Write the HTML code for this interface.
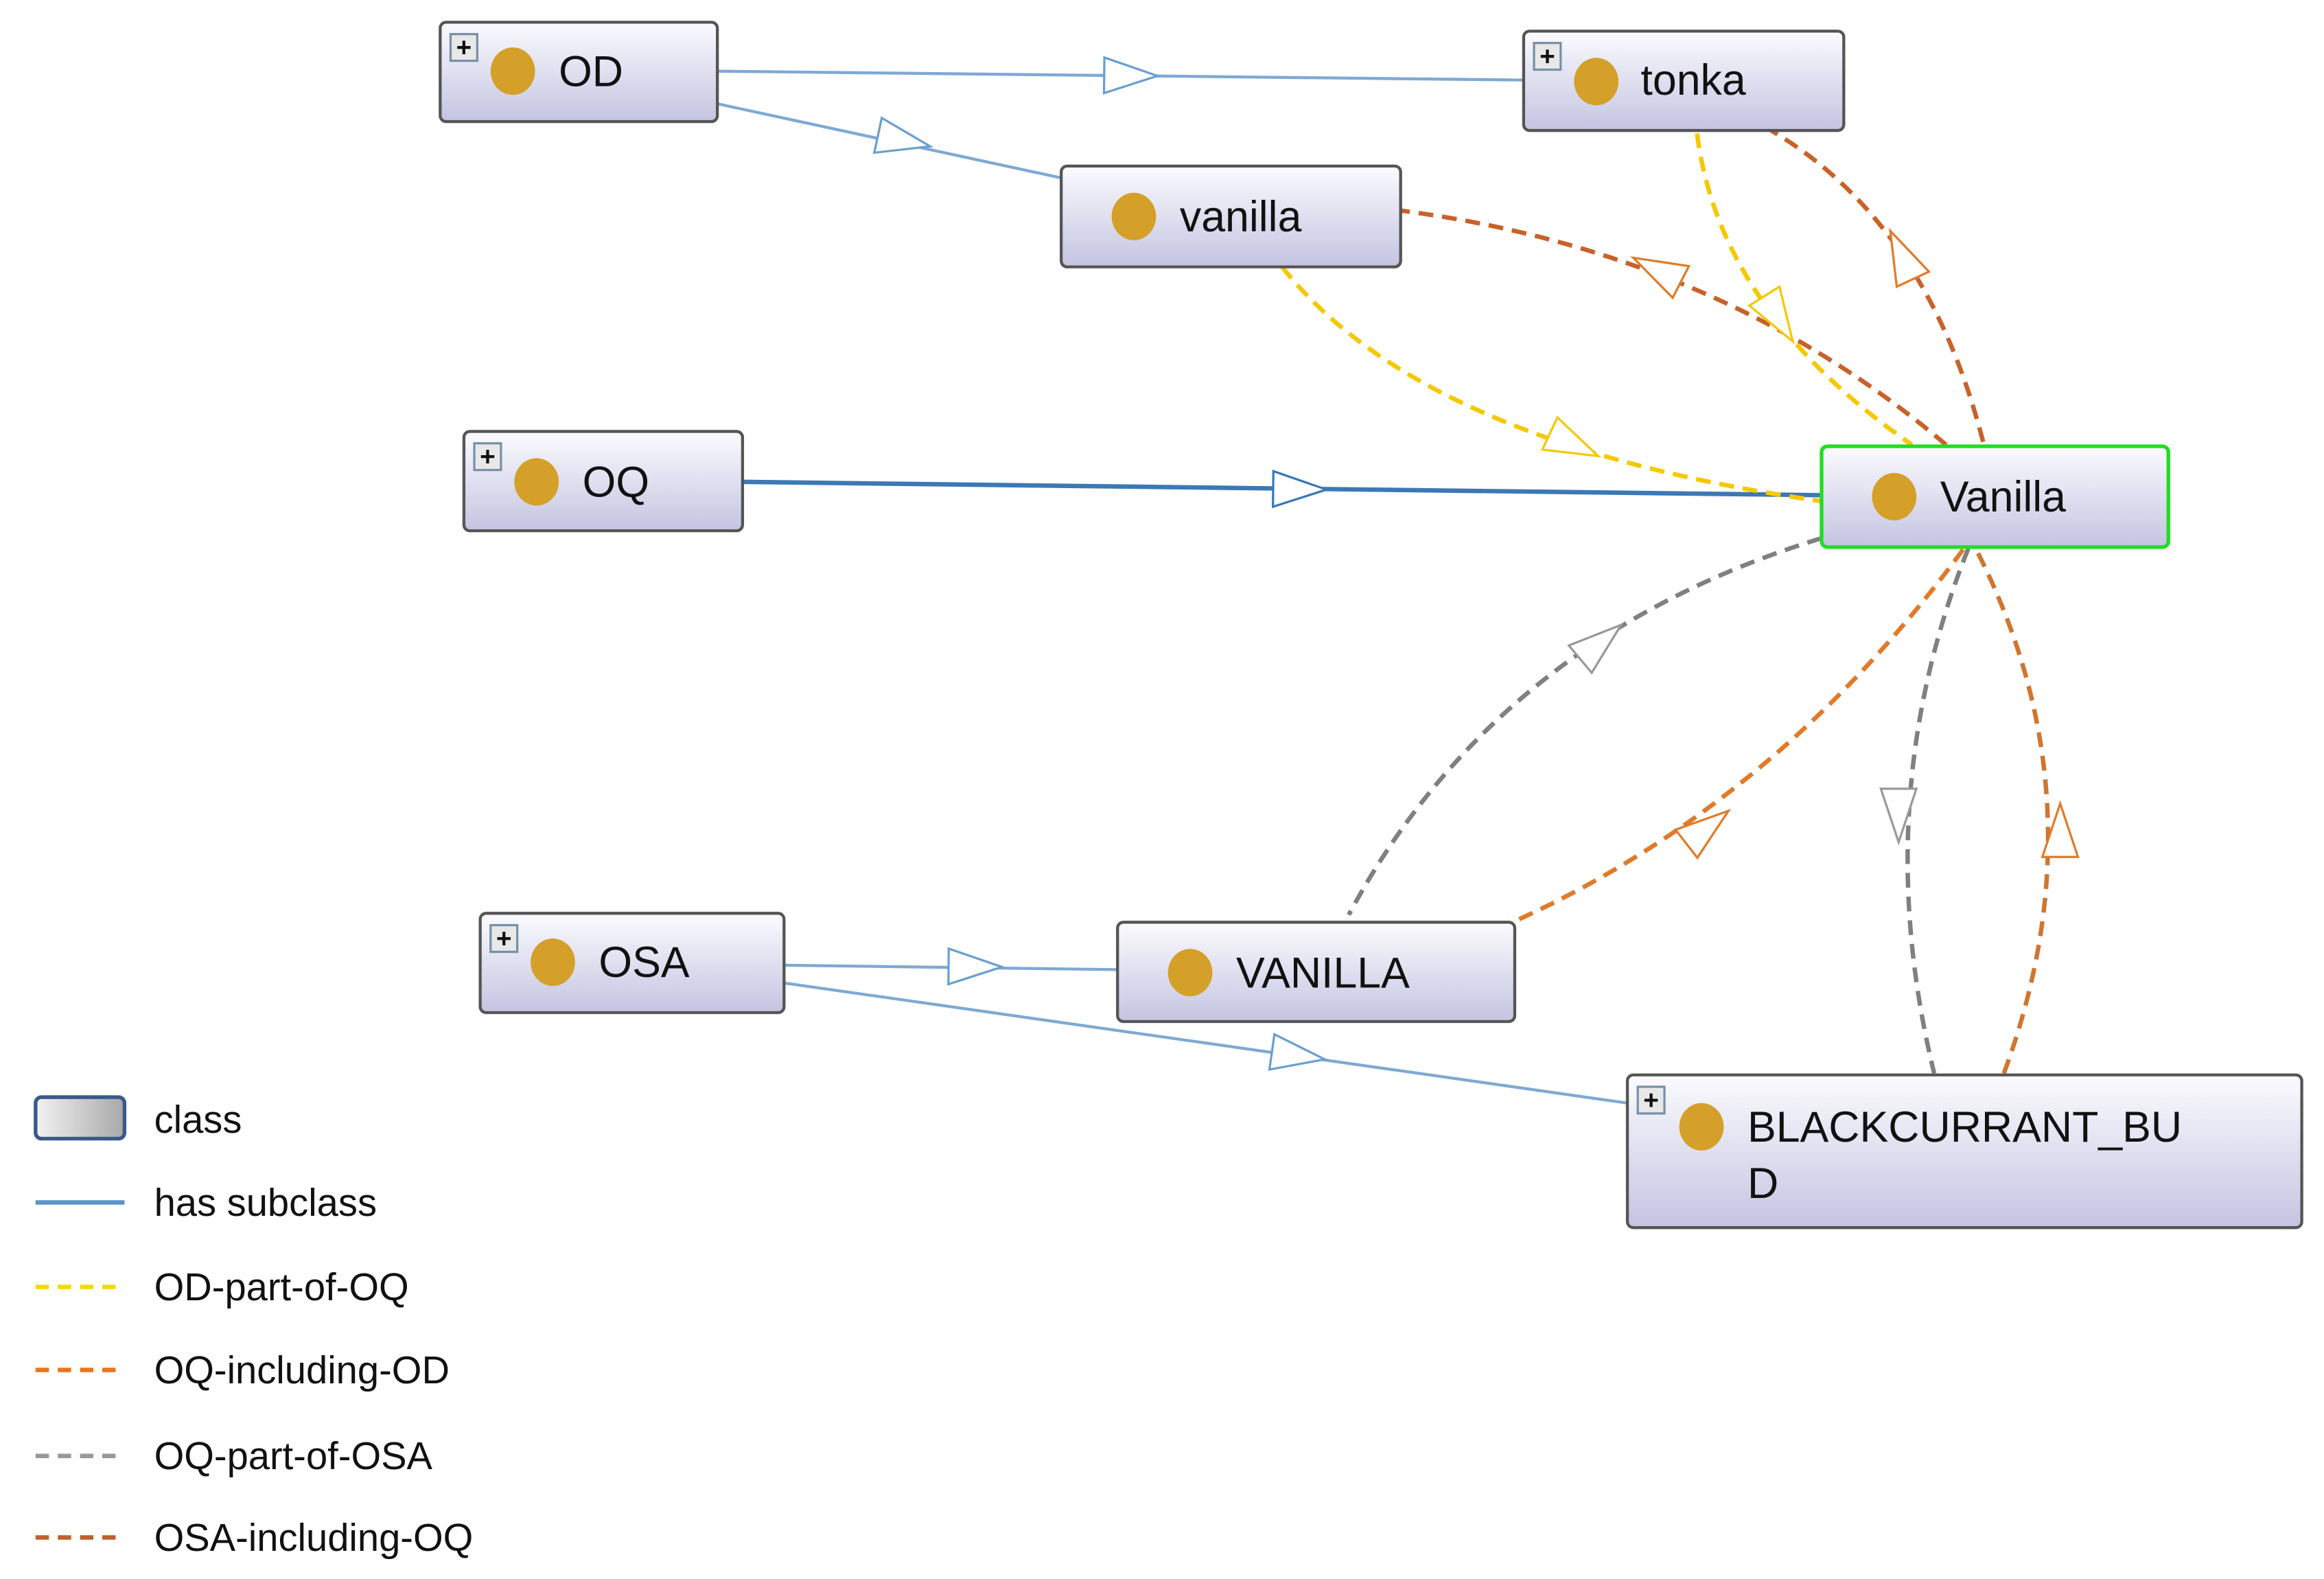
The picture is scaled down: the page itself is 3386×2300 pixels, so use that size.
<!DOCTYPE html>
<html><head><meta charset="utf-8"><style>
html,body{margin:0;padding:0;background:#fff;}
svg{display:block}
text{font-family:"Liberation Sans",Arial,sans-serif;fill:#111}
</style></head><body>
<svg width="3386" height="2300" viewBox="0 0 1568 1065" preserveAspectRatio="none" xmlns="http://www.w3.org/2000/svg">
<defs>
<linearGradient id="g" x1="0" y1="0" x2="0" y2="1"><stop offset="0" stop-color="#fbfbfe"/><stop offset="1" stop-color="#c4c4e2"/></linearGradient>
<linearGradient id="lg" x1="0" y1="0" x2="1" y2="0"><stop offset="0" stop-color="#f2f2f2"/><stop offset="1" stop-color="#a8a8a8"/></linearGradient>
<polygon id="ar" points="-18,-12 18,0 -18,12"/>
</defs>
<g fill="none" stroke-width="2">
<path d="M484,48 L1028,54" stroke="#7fa9d4"/>
<path d="M484,70 L716,120" stroke="#7fa9d4"/>
<path d="M501,325 L1229,334" stroke="#3c78b4" stroke-width="3"/>
<path d="M529,651 L754,654" stroke="#7fa9d4"/>
<path d="M529,663 L1098,744" stroke="#7fa9d4"/>
<g stroke-width="3" stroke-dasharray="10,6">
<path d="M865,180 Q960,300 1229,338" stroke="#f5c800"/>
<path d="M1145,90 Q1160,210 1290,300" stroke="#f5c800"/>
<path d="M1313,300 Q1160,170 945,142" stroke="#c8622a"/>
<path d="M1338,298 Q1300,150 1195,88" stroke="#c8622a"/>
<path d="M1229,363 Q1010,430 910,617" stroke="#808080"/>
<path d="M1025,620 Q1200,540 1325,370" stroke="#e07b2a"/>
<path d="M1328,370 Q1260,540 1305,724" stroke="#808080"/>
<path d="M1352,724 Q1420,540 1333,370" stroke="#d07530"/>
</g>
</g>
<g fill="#fff" stroke-width="1.5">
<use href="#ar" transform="translate(763,51) rotate(0.6)" stroke="#6a9fd0"/>
<use href="#ar" transform="translate(610,95) rotate(12)" stroke="#6a9fd0"/>
<use href="#ar" transform="translate(877,330) rotate(0.7)" stroke="#3c78b4"/>
<use href="#ar" transform="translate(658,652) rotate(0.5)" stroke="#6a9fd0"/>
<use href="#ar" transform="translate(876,712) rotate(8)" stroke="#6a9fd0"/>
<use href="#ar" transform="translate(1062,300) rotate(25)" stroke="#f5c800"/>
<use href="#ar" transform="translate(1200,215) rotate(58)" stroke="#f5c800"/>
<use href="#ar" transform="translate(1118,182) rotate(207)" stroke="#e07b2a"/>
<use href="#ar" transform="translate(1283,172) rotate(245)" stroke="#e07b2a"/>
<use href="#ar" transform="translate(1080,433) rotate(-40)" stroke="#999"/>
<use href="#ar" transform="translate(1152,558) rotate(-38)" stroke="#e07b2a"/>
<use href="#ar" transform="translate(1281,550) rotate(90)" stroke="#999"/>
<use href="#ar" transform="translate(1390,560) rotate(-90)" stroke="#e07b2a"/>
</g>
<g stroke="#555" stroke-width="2" fill="url(#g)">
<rect x="297" y="15" width="187" height="67" rx="4"/>
<rect x="1028" y="21" width="216" height="67" rx="4"/>
<rect x="716" y="112" width="229" height="68" rx="4"/>
<rect x="313" y="291" width="188" height="67" rx="4"/>
<rect x="1229" y="301" width="234" height="68" rx="4" stroke="#22dd22" stroke-width="2.5"/>
<rect x="324" y="616" width="205" height="67" rx="4"/>
<rect x="754" y="622" width="268" height="67" rx="4"/>
<rect x="1098" y="725" width="455" height="103" rx="4"/>
</g>
<g fill="#d4a02a">
<ellipse cx="346" cy="48" rx="15" ry="16"/>
<ellipse cx="1077" cy="55" rx="15" ry="16"/>
<ellipse cx="765" cy="146" rx="15" ry="16"/>
<ellipse cx="362" cy="325" rx="15" ry="16"/>
<ellipse cx="1278" cy="335" rx="15" ry="16"/>
<ellipse cx="373" cy="649" rx="15" ry="16"/>
<ellipse cx="803" cy="656" rx="15" ry="16"/>
<ellipse cx="1148" cy="760" rx="15" ry="16"/>
</g>
<g fill="#e8e8e8" stroke="#7890a8" stroke-width="1.5">
<rect x="304" y="23" width="18" height="18"/>
<rect x="1035" y="29" width="18" height="18"/>
<rect x="320" y="299" width="18" height="18"/>
<rect x="331" y="624" width="18" height="18"/>
<rect x="1105" y="733" width="18" height="18"/>
</g>
<g font-size="18" font-weight="bold" text-anchor="middle">
<text x="313" y="38">+</text><text x="1044" y="44">+</text><text x="329" y="314">+</text><text x="340" y="639">+</text><text x="1114" y="748">+</text>
</g>
<g font-size="29">
<text x="377" y="58">OD</text>
<text x="1107" y="64">tonka</text>
<text x="796" y="156">vanilla</text>
<text x="393" y="335">OQ</text>
<text x="1309" y="345">Vanilla</text>
<text x="404" y="659">OSA</text>
<text x="834" y="666">VANILLA</text>
<text x="1179" y="770">BLACKCURRANT_BU</text>
<text x="1179" y="808">D</text>
</g>
<rect x="24" y="740" width="60" height="28" rx="4" fill="url(#lg)" stroke="#3a5a8a" stroke-width="2.5"/>
<g stroke-width="3">
<line x1="24" y1="811" x2="84" y2="811" stroke="#5b93cc"/>
<line x1="24" y1="868" x2="84" y2="868" stroke="#f5d800" stroke-dasharray="9,6"/>
<line x1="24" y1="924" x2="84" y2="924" stroke="#e8761e" stroke-dasharray="9,6"/>
<line x1="24" y1="982" x2="84" y2="982" stroke="#999" stroke-dasharray="9,6"/>
<line x1="24" y1="1037" x2="84" y2="1037" stroke="#c0602a" stroke-dasharray="9,6"/>
</g>
<g font-size="26">
<text x="104" y="764">class</text>
<text x="104" y="820">has subclass</text>
<text x="104" y="877">OD-part-of-OQ</text>
<text x="104" y="933">OQ-including-OD</text>
<text x="104" y="991">OQ-part-of-OSA</text>
<text x="104" y="1046">OSA-including-OQ</text>
</g>
</svg>
</body></html>
